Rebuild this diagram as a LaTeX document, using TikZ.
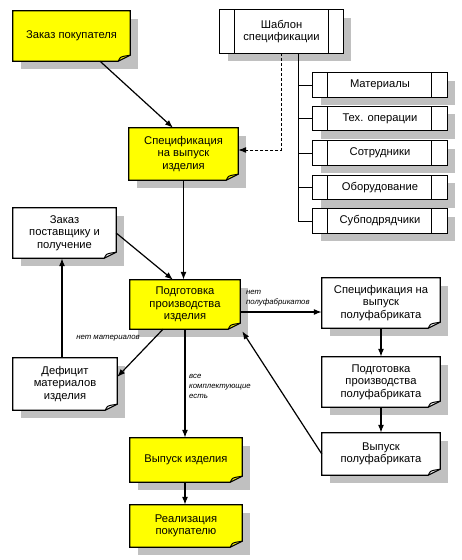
\documentclass[tikz,border=0pt]{standalone}
\usepackage{fontspec}
\setmainfont{Liberation Sans}
\usetikzlibrary{arrows.meta,calc}
\pgfdeclarelayer{background}
\pgfsetlayers{background,main}
\definecolor{shadowc}{RGB}{192,192,192}
\definecolor{boxyellow}{RGB}{255,255,0}
\newcommand\foldbox[2]{%
  \fill[shadowc] ([shift={(8pt,-8pt)}]#1.north west) rectangle ([shift={(8pt,-8pt)}]#1.south east);
  \filldraw[fill=#2, line width=1.2pt, line join=miter]
    (#1.north west) -- (#1.north east) -- ([yshift=6pt]#1.south east)
    -- ([xshift=-12pt]#1.south east) -- (#1.south west) -- cycle;
  \draw[line width=1pt]
    ([xshift=-12pt]#1.south east) .. controls ([xshift=-10pt,yshift=4pt]#1.south east) .. ([xshift=-6pt,yshift=5pt]#1.south east)
    -- ([yshift=6pt]#1.south east);
}
\newcommand\ppbox[3]{%
  \fill[shadowc] ([shift={(8pt,-8pt)}]#1.north west) rectangle ([shift={(8pt,-8pt)}]#1.south east);
  \filldraw[fill=white, line width=1.2pt] (#1.north west) rectangle (#1.south east);
  \draw[line width=1.2pt] ([xshift=#2]#1.north west) -- ([xshift=#2]#1.south west);
  \draw[line width=1.2pt] ([xshift=-#3]#1.north east) -- ([xshift=-#3]#1.south east);
}
\begin{document}
\begin{tikzpicture}[x=1pt,y=-1pt,
  box/.style={inner sep=0pt, align=center, font=\fontsize{11.2}{12.5}\selectfont},
  lbl/.style={inner sep=0pt, align=left, font=\fontsize{7.8}{10}\selectfont\itshape},
  arr/.style={-{Latex[length=8pt,width=6pt]}, line width=1.2pt},
  ln/.style={line width=0.9pt}]
\useasboundingbox (0,0) rectangle (461,560);

% nodes
\node[box, minimum width=117pt, minimum height=50pt] (zakaz) at (71.5,36) {Заказ покупателя};
\node[box, minimum width=123pt, minimum height=43pt] (tmpl) at (281.5,31.5) {Шаблон\\спецификации};
\node[box, minimum width=134pt, minimum height=24pt] (c1) at (380,85) {Материалы};
\node[box, minimum width=134pt, minimum height=24pt] (c2) at (380,118.5) {Тех. операции};
\node[box, minimum width=134pt, minimum height=24pt] (c3) at (380,153) {Сотрудники};
\node[box, minimum width=134pt, minimum height=24pt] (c4) at (380,187.5) {Оборудование};
\node[box, minimum width=134pt, minimum height=24pt] (c5) at (380,221) {Субподрядчики};
\node[box, minimum width=109pt, minimum height=52pt] (spec) at (183.5,154) {Спецификация\\на выпуск\\изделия};
\node[box, minimum width=103pt, minimum height=50pt] (postav) at (64.5,233) {Заказ\\поставщику и\\получение};
\node[box, minimum width=110pt, minimum height=49pt] (podg) at (185,304.5) {Подготовка\\производства\\изделия};
\node[box, minimum width=104pt, minimum height=52pt] (defic) at (65,384) {Дефицит\\материалов\\изделия};
\node[box, minimum width=112pt, minimum height=44pt] (vyp) at (186,460) {Выпуск изделия};
\node[box, minimum width=112pt, minimum height=42pt] (real) at (186,526) {Реализация\\покупателю};
\node[box, minimum width=118pt, minimum height=50pt] (spf) at (381,303) {Спецификация на\\выпуск\\полуфабриката};
\node[box, minimum width=118pt, minimum height=50pt] (ppf) at (381,382) {Подготовка\\производства\\полуфабриката};
\node[box, minimum width=118pt, minimum height=42pt] (vpf) at (381,454) {Выпуск\\полуфабриката};

% box shapes
\begin{pgfonlayer}{background}
\fill[white] (0,0) rectangle (461,560);
\foldbox{zakaz}{boxyellow}
\foldbox{spec}{boxyellow}
\foldbox{podg}{boxyellow}
\foldbox{vyp}{boxyellow}
\foldbox{real}{boxyellow}
\foldbox{postav}{white}
\foldbox{defic}{white}
\foldbox{spf}{white}
\foldbox{ppf}{white}
\foldbox{vpf}{white}
\ppbox{tmpl}{15pt}{15pt}
\ppbox{c1}{15pt}{16pt}
\ppbox{c2}{15pt}{16pt}
\ppbox{c3}{15pt}{16pt}
\ppbox{c4}{15pt}{16pt}
\ppbox{c5}{15pt}{16pt}
\end{pgfonlayer}

% tree
\coordinate (trunk) at ([xshift=16.5pt]tmpl.south);
\draw[ln] (trunk) |- (c5.west);
\foreach \c in {c1,c2,c3,c4} \draw[ln] (trunk |- \c.west) -- (\c.west);

% connectors
\draw[arr] ([xshift=28.5pt]zakaz.south) -- ([xshift=-10.5pt]spec.north);
\draw[arr, line width=1pt, dash pattern=on 3pt off 2pt] (tmpl.south) |- ([yshift=4pt]spec.east);
\draw[arr] (spec.south) -- (spec.south |- podg.north);
\draw[arr] (postav.east) -- ([xshift=-12pt]podg.north);
\draw[arr] ([xshift=-22pt]podg.south) -- ([yshift=7pt]defic.east);
\draw[arr] ([xshift=-3pt]defic.north) -- ([xshift=-3pt]defic.north |- postav.south);
\draw[arr] (podg.south) -- (podg.south |- vyp.north);
\draw[arr] (vyp.south -| podg.south) -- (real.north -| podg.south);
\draw[arr] ([yshift=-7.5pt]podg.east) -- ([yshift=-7.5pt]podg.east -| spf.west);
\draw[arr] (spf.south) -- (ppf.north);
\draw[arr] (ppf.south) -- (vpf.north);
\draw[arr] (vpf.west) -- ([shift={(2pt,-2pt)}]podg.south east);

% labels
\node[lbl] (l1) at (108,338) {нет материалов};
\node[lbl, anchor=north west] (l2) at (189,374) {все\\комплектующие\\есть};
\node[lbl, anchor=south west] (l3) at (246,306) {нет\\полуфабрикатов};
\end{tikzpicture}
\end{document}
